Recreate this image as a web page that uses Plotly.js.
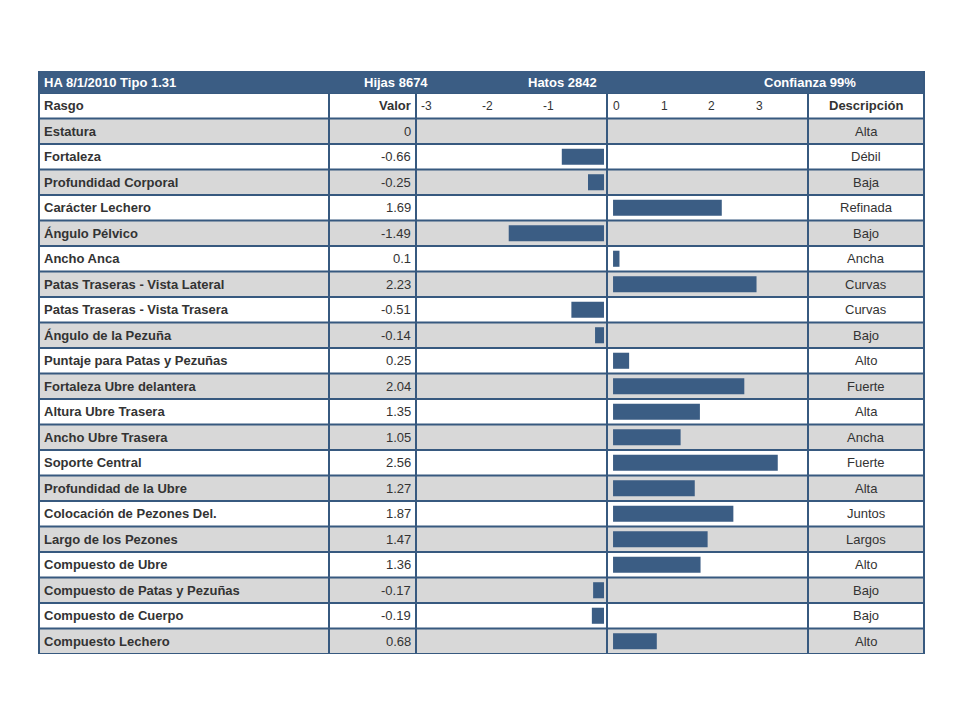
<!DOCTYPE html>
<html>
<head>
<meta charset="utf-8">
<script src="https://cdn.plot.ly/plotly-3.0.1.min.js"></script>
<style>html,body{margin:0;padding:0;background:#fff;}#chart{width:960px;height:720px;}</style>
</head>
<body>
<div id="chart"></div>
<script>
// ---- data ----
const rasgos = [
  "Estatura","Fortaleza","Profundidad Corporal","Carácter Lechero","Ángulo Pélvico",
  "Ancho Anca","Patas Traseras - Vista Lateral","Patas Traseras - Vista Trasera",
  "Ángulo de la Pezuña","Puntaje para Patas y Pezuñas","Fortaleza Ubre delantera",
  "Altura Ubre Trasera","Ancho Ubre Trasera","Soporte Central","Profundidad de la Ubre",
  "Colocación de Pezones Del.","Largo de los Pezones","Compuesto de Ubre",
  "Compuesto de Patas y Pezuñas","Compuesto de Cuerpo","Compuesto Lechero"
];
const valores = [0,-0.66,-0.25,1.69,-1.49,0.1,2.23,-0.51,-0.14,0.25,2.04,1.35,1.05,2.56,1.27,1.87,1.47,1.36,-0.17,-0.19,0.68];
const descripciones = ["Alta","Débil","Baja","Refinada","Bajo","Ancha","Curvas","Curvas","Bajo","Alto","Fuerte","Alta","Ancha","Fuerte","Alta","Juntos","Largos","Alto","Bajo","Bajo","Alto"];
const negTickLabels = ["-3","-2","-1"];
const posTickLabels = ["0","1","2","3"];
const headerTexts = ["HA 8/1/2010 Tipo 1.31","Hijas 8674","Hatos 2842","Confianza 99%"];
const colHeaders = ["Rasgo","Valor","Descripción"];

// ---- layout helpers (pixel -> paper) ----
const W = 960, H = 720;
const px = x => x / W;
const py = y => 1 - y / H;
const BLUE = "#3b5d84";
const LINE = "#37597f";
const GREY = "#d8d8d8";
const TXT = "#333333";
const FONT = "Liberation Sans, Arial, Helvetica, sans-serif";

const L = 39, R = 924, C1 = 329, C2 = 416, C3 = 607, C4 = 808;
const headTop = 71, rowTop = 93, bottom = 654;

const idx = rasgos.map((_, i) => i);
const negVals = valores.map(v => v < 0 ? v : null);
const posVals = valores.map(v => v > 0 ? v : null);

const traces = [
  {type: "bar", orientation: "h", x: negVals, y: idx, xaxis: "x", yaxis: "y",
   width: 0.63, marker: {color: BLUE, line: {width: 0}}, hoverinfo: "skip"},
  {type: "bar", orientation: "h", x: posVals, y: idx, xaxis: "x2", yaxis: "y",
   width: 0.63, marker: {color: BLUE, line: {width: 0}}, hoverinfo: "skip"}
];

const shapes = [];
const annotations = [];
// header blue band
shapes.push({type: "rect", xref: "paper", yref: "paper", x0: px(L), x1: px(R), y0: py(rowTop), y1: py(headTop),
  fillcolor: BLUE, line: {width: 0}, layer: "below"});
// grey rows
idx.forEach(i => {
  if (i % 2 === 0) {
    shapes.push({type: "rect", xref: "paper", yref: "y", x0: px(L), x1: px(R), y0: i - 0.5, y1: i + 0.5,
      fillcolor: GREY, line: {width: 0}, layer: "below"});
  }
});
// horizontal grid lines
for (let k = -1; k <= rasgos.length; k++) {
  shapes.push({type: "line", xref: "paper", yref: "y", x0: px(L), x1: px(R), y0: k - 0.5, y1: k - 0.5,
    line: {color: LINE, width: 2}, layer: "above"});
}
// vertical lines
[C1, C2, C3, C4].forEach(c => {
  shapes.push({type: "line", xref: "paper", yref: "paper", x0: px(c), x1: px(c), y0: py(bottom), y1: py(rowTop),
    line: {color: LINE, width: 2}, layer: "above"});
});
[L, R].forEach(c => {
  shapes.push({type: "line", xref: "paper", yref: "paper", x0: px(c), x1: px(c), y0: py(bottom), y1: py(headTop),
    line: {color: LINE, width: 2}, layer: "above"});
});

// header texts
const headerPos = [[42, "left"], [396, "center"], [562, "center"], [810, "center"]];
headerTexts.forEach((t, i) => {
  annotations.push({xref: "paper", yref: "paper", x: px(headerPos[i][0]), y: py(82), text: "<b>" + t + "</b>",
    showarrow: false, xanchor: headerPos[i][1], yanchor: "middle",
    font: {family: FONT, size: 13, color: "#ffffff"}});
});
// column headers
annotations.push({xref: "paper", yref: "y", x: px(42), y: -1, text: "<b>" + colHeaders[0] + "</b>", showarrow: false,
  xanchor: "left", yanchor: "middle", font: {family: FONT, size: 13, color: TXT}});
annotations.push({xref: "paper", yref: "y", x: px(413), y: -1, text: "<b>" + colHeaders[1] + "</b>", showarrow: false,
  xanchor: "right", yanchor: "middle", font: {family: FONT, size: 13, color: TXT}});
annotations.push({xref: "paper", yref: "y", x: px(866), y: -1, text: "<b>" + colHeaders[2] + "</b>", showarrow: false,
  xanchor: "center", yanchor: "middle", font: {family: FONT, size: 13, color: TXT}});
// tick labels
const negTickPx = [426, 487, 548];
const posTickPx = [616, 664, 711, 759];
negTickLabels.forEach((t, i) => annotations.push({xref: "paper", yref: "y", x: px(negTickPx[i]), y: -1, text: t,
  showarrow: false, xanchor: "center", yanchor: "middle", font: {family: FONT, size: 12, color: TXT}}));
posTickLabels.forEach((t, i) => annotations.push({xref: "paper", yref: "y", x: px(posTickPx[i]), y: -1, text: t,
  showarrow: false, xanchor: "center", yanchor: "middle", font: {family: FONT, size: 12, color: TXT}}));
// rows
idx.forEach(i => {
  annotations.push({xref: "paper", yref: "y", x: px(42), y: i, text: "<b>" + rasgos[i] + "</b>", showarrow: false,
    xanchor: "left", yanchor: "middle", font: {family: FONT, size: 13, color: TXT}});
  annotations.push({xref: "paper", yref: "y", x: px(413), y: i, text: String(valores[i]), showarrow: false,
    xanchor: "right", yanchor: "middle", font: {family: FONT, size: 13, color: TXT}});
  annotations.push({xref: "paper", yref: "y", x: px(866), y: i, text: descripciones[i], showarrow: false,
    xanchor: "center", yanchor: "middle", font: {family: FONT, size: 13, color: TXT}});
});

const layout = {
  width: W, height: H,
  margin: {l: 0, r: 0, t: 0, b: 0},
  paper_bgcolor: "#ffffff", plot_bgcolor: "rgba(0,0,0,0)",
  showlegend: false,
  barmode: "overlay",
  xaxis: {domain: [px(C2), px(C3)], range: [-2.94, 0.047], visible: false, fixedrange: true},
  xaxis2: {domain: [px(C3), px(C4)], range: [-0.094, 3.03], visible: false, anchor: "y", fixedrange: true},
  yaxis: {domain: [py(bottom), py(rowTop)], range: [rasgos.length - 0.5, -1.5], visible: false, fixedrange: true},
  shapes: shapes,
  annotations: annotations
};

Plotly.newPlot("chart", traces, layout, {staticPlot: true, displayModeBar: false});
</script>
</body>
</html>
